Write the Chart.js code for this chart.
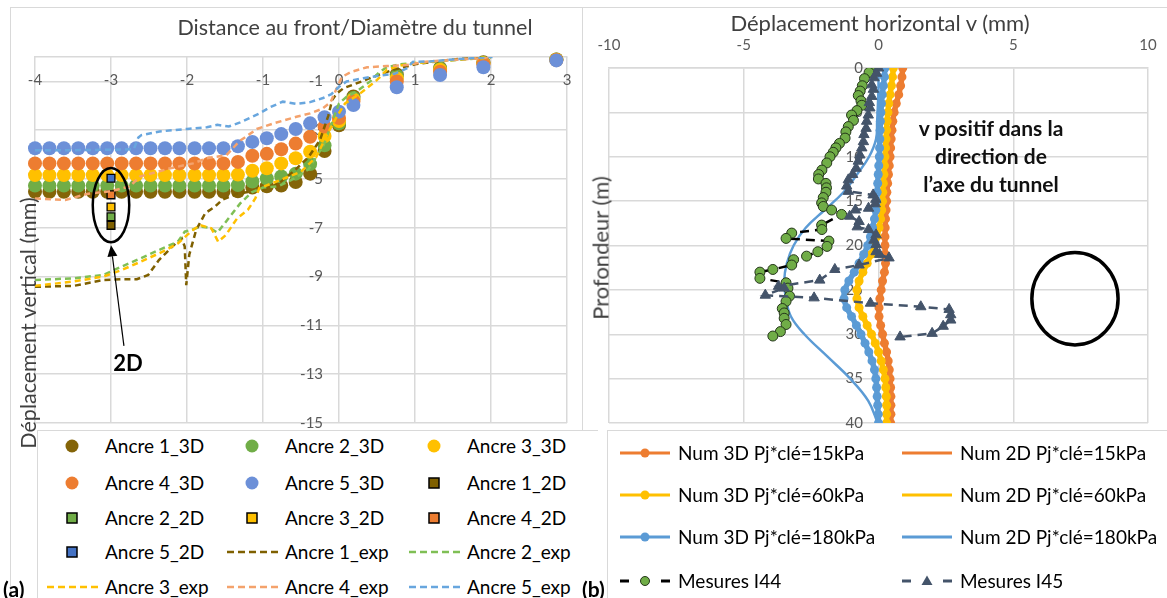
<!DOCTYPE html>
<html lang="fr"><head><meta charset="utf-8">
<title>Déplacements</title>
<script src="https://cdn.jsdelivr.net/npm/chart.js@4.4.1/dist/chart.umd.min.js"></script>
<style>
html,body{margin:0;padding:0;background:#fff;}
#wrap{position:relative;width:1167px;height:598px;overflow:hidden;background:#fff;font-family:Lato,'Liberation Sans',sans-serif;color:#000;}
.t{position:absolute;white-space:nowrap;}
.frame{position:absolute;border:1px solid #D9D9D9;box-sizing:border-box;}
.legbox{position:absolute;border-top:1.5px solid #D9D9D9;border-left:1.5px solid #D9D9D9;background:#fff;}
.leg{position:absolute;font-size:19px;line-height:20px;color:#000;white-space:nowrap;}
svg.m{position:absolute;overflow:visible;}
canvas{position:absolute;}
</style></head>
<body><div id="wrap">
<div class="frame" style="left:10px;top:7px;width:573px;height:600px;"></div>
<div class="frame" style="left:582px;top:7px;width:600px;height:600px;"></div>
<canvas id="c1" width="580" height="430" style="left:0;top:0;width:580px;height:430px"></canvas>
<canvas id="c2" width="584" height="430" style="left:583px;top:0;width:584px;height:430px"></canvas>
<div class="t" style="left:355px;top:27px;transform:translate(-50%,-50%);font-size:21.5px;color:#404040">Distance au front/Diamètre du tunnel</div>
<div class="t" style="left:880px;top:22px;transform:translate(-50%,-50%);font-size:22px;color:#404040">Déplacement horizontal v (mm)</div>
<div class="t" style="left:28px;top:323px;transform:translate(-50%,-50%) rotate(-90deg);font-size:21.5px;color:#404040">Déplacement vertical (mm)</div>
<div class="t" style="left:600px;top:248px;transform:translate(-50%,-50%) rotate(-90deg);font-size:22px;color:#404040">Profondeur (m)</div>
<div class="t" style="left:128px;top:362px;transform:translate(-50%,-50%);font-size:22px;font-weight:bold">2D</div>
<div class="t" style="left:991px;top:156px;transform:translate(-50%,-50%);font-size:21px;font-weight:bold;line-height:28px;text-align:center;color:#111">v positif dans la<br>direction de<br>l’axe du tunnel</div>
<div class="legbox" style="left:37px;top:430px;width:560px;height:180px"></div>
<div class="legbox" style="left:607px;top:430px;width:580px;height:180px"></div>
<div id="legL"></div>
<div id="legR"></div>
<div class="t" style="left:3px;top:576px;font-size:21px;font-weight:bold">(a)</div>
<div class="t" style="left:582px;top:576px;font-size:21px;font-weight:bold">(b)</div>
</div>
<script>
// ================= DATA : panel (a) =================
const xTicksLeft = [-4, -3, -2, -1, 0, 1, 2, 3];
const yTicksLeft = [-15, -13, -11, -9, -7, -5, -3, -1];
const anchorLabels = ['Ancre 1', 'Ancre 2', 'Ancre 3', 'Ancre 4', 'Ancre 5'];

// 3D numerical (distance au front / D)
const x3D = [-4.00,-3.81,-3.62,-3.43,-3.24,-3.05,-2.86,-2.67,-2.48,-2.29,-2.10,-1.90,-1.71,-1.52,-1.33,-1.14,-0.95,-0.76,-0.57,-0.38,-0.19,0.00,0.19,0.76,1.33,1.90,2.86];
const ancre1_3D = [-5.52,-5.52,-5.52,-5.52,-5.52,-5.52,-5.52,-5.52,-5.52,-5.52,-5.52,-5.52,-5.52,-5.52,-5.50,-5.35,-5.30,-5.27,-5.12,-4.78,-3.85,-2.80,-1.62,-0.72,-0.45,-0.22,-0.10];
const ancre2_3D = [-5.27,-5.27,-5.27,-5.27,-5.27,-5.27,-5.27,-5.27,-5.27,-5.27,-5.27,-5.27,-5.27,-5.27,-5.25,-5.10,-4.98,-4.90,-4.78,-4.39,-3.62,-2.72,-1.68,-0.78,-0.48,-0.24,-0.10];
const ancre3_3D = [-4.84,-4.84,-4.84,-4.84,-4.84,-4.84,-4.84,-4.84,-4.84,-4.84,-4.84,-4.84,-4.84,-4.84,-4.82,-4.66,-4.56,-4.36,-4.15,-3.88,-3.24,-2.62,-1.74,-0.88,-0.52,-0.26,-0.11];
const ancre4_3D = [-4.36,-4.36,-4.36,-4.36,-4.36,-4.36,-4.36,-4.36,-4.36,-4.36,-4.36,-4.36,-4.36,-4.36,-4.30,-4.05,-3.97,-3.78,-3.55,-3.27,-2.85,-2.50,-1.82,-1.00,-0.60,-0.30,-0.12];
const ancre5_3D = [-3.74,-3.74,-3.74,-3.74,-3.74,-3.74,-3.74,-3.74,-3.74,-3.74,-3.74,-3.74,-3.74,-3.74,-3.66,-3.48,-3.33,-3.16,-2.95,-2.72,-2.47,-2.24,-1.97,-1.24,-0.74,-0.42,-0.14];

// 2D numerical
const x2D = [-3];
const ancre1_2D = [-6.90];
const ancre2_2D = [-6.55];
const ancre3_2D = [-6.15];
const ancre4_2D = [-5.65];
const ancre5_2D = [-4.97];

// measurements
const exp1X = [-4.00,-3.49,-3.10,-2.86,-2.66,-2.51,-2.37,-2.17,-2.07,-2.03,-2.01,-1.97,-1.88,-1.76,-1.63,-1.54,-1.34,-1.00,-0.80,-0.60,-0.40,-0.25,-0.14,-0.09,-0.03,0.06,0.30,0.45,0.71,1.00,1.50,2.00];
const exp1Y = [-9.42,-9.38,-9.14,-9.11,-9.11,-8.93,-8.32,-7.70,-7.43,-7.77,-9.35,-8.10,-7.09,-6.40,-6.13,-5.86,-5.60,-5.45,-5.20,-4.70,-4.10,-3.40,-2.40,-1.76,-1.50,-1.28,-1.00,-0.81,-0.53,-0.30,-0.10,0.00];
const exp2X = [-4.00,-3.49,-3.10,-2.86,-2.61,-2.32,-2.12,-2.03,-1.95,-1.82,-1.70,-1.60,-1.45,-1.30,-1.15,-1.00,-0.80,-0.60,-0.40,-0.20,0.00,0.10,0.23,0.41,0.54,0.63,0.80,1.20,2.00];
const exp2Y = [-9.14,-9.07,-8.93,-8.59,-8.25,-7.84,-7.57,-7.16,-7.10,-6.95,-7.00,-7.20,-6.60,-6.00,-5.55,-5.35,-5.30,-5.00,-4.60,-3.60,-1.90,-1.63,-1.42,-1.00,-0.60,-0.42,-0.30,-0.20,-0.02];
const exp3X = [-4.00,-3.49,-3.10,-2.86,-2.61,-2.32,-2.12,-1.95,-1.83,-1.68,-1.59,-1.49,-1.34,-1.20,-1.10,-1.05,-0.90,-0.70,-0.50,-0.30,-0.16,-0.03,0.08,0.28,0.50,0.63,0.80,1.00,1.50,2.00];
const exp3Y = [-9.38,-9.20,-9.00,-8.73,-8.39,-7.98,-7.64,-7.16,-6.89,-7.02,-7.57,-7.30,-6.61,-6.27,-5.79,-5.38,-5.20,-4.95,-4.70,-4.10,-3.20,-2.45,-1.90,-1.49,-0.94,-0.53,-0.35,-0.25,-0.12,-0.02];
const exp4X = [-4.00,-3.60,-3.30,-3.00,-2.75,-2.62,-2.22,-1.92,-1.74,-1.48,-1.31,-1.08,-0.86,-0.56,-0.38,-0.22,-0.11,-0.04,0.04,0.17,0.37,0.63,0.89,1.14,1.87,2.00];
const exp4Y = [-5.80,-5.86,-5.60,-5.50,-5.30,-4.90,-4.56,-4.36,-4.15,-4.02,-3.45,-2.95,-2.72,-2.45,-2.31,-2.12,-1.85,-1.35,-0.81,-0.60,-0.42,-0.37,-0.33,-0.19,-0.05,0.00];
const exp5X = [-4.00,-3.50,-3.00,-2.70,-2.64,-2.60,-2.36,-2.00,-1.74,-1.60,-1.45,-1.30,-1.04,-0.90,-0.74,-0.56,-0.38,-0.21,-0.10,0.00,0.10,0.32,0.54,0.74,0.90,0.97,1.20,1.50,2.02];
const exp5Y = [-3.82,-3.82,-3.80,-3.78,-3.30,-3.20,-3.05,-2.95,-2.88,-2.78,-2.85,-2.68,-2.30,-2.05,-1.83,-1.92,-1.85,-1.68,-1.52,-1.22,-1.00,-0.87,-0.76,-0.68,-0.45,-0.20,-0.18,-0.10,0.00];

// ================= DATA : panel (b) =================
const xTicksRight = [-10, -5, 0, 5, 10];
const depth3D = [0,1,2,3,4,5,6,7,8,9,10,11,12,13,14,15,16,17,18,19,20,21,22,23,24,25,26,27,28,29,30,31,32,33,34,35,36,37,38,39,40];
const num3D_15 = [0.90,0.87,0.82,0.75,0.66,0.58,0.53,0.50,0.47,0.45,0.43,0.40,0.37,0.34,0.31,0.30,0.28,0.26,0.25,0.24,0.24,0.25,0.26,0.22,0.15,0.10,0.05,0.02,0.02,0.08,0.15,0.22,0.30,0.36,0.40,0.43,0.45,0.46,0.46,0.46,0.45];
const num3D_60 = [0.55,0.52,0.48,0.43,0.38,0.35,0.32,0.30,0.28,0.26,0.24,0.22,0.20,0.18,0.16,0.15,0.12,0.08,0.02,-0.06,-0.15,-0.28,-0.42,-0.58,-0.72,-0.80,-0.80,-0.72,-0.58,-0.42,-0.26,-0.12,0.00,0.10,0.18,0.24,0.27,0.29,0.30,0.30,0.30];
const num3D_180 = [0.24,0.22,0.18,0.14,0.11,0.09,0.07,0.06,0.05,0.04,0.03,0.01,-0.01,-0.03,-0.05,-0.07,-0.10,-0.15,-0.22,-0.30,-0.40,-0.55,-0.72,-0.90,-1.10,-1.25,-1.28,-1.18,-1.00,-0.82,-0.65,-0.50,-0.36,-0.24,-0.15,-0.10,-0.07,-0.05,-0.03,-0.01,0.00];
const depth2D = [0,2,4,6,8,10,12,14,16,18,20,22,24,26,28,30,32.5,35,37.5,40];
const num2D_15 = [0.95,0.80,0.68,0.56,0.50,0.45,0.40,0.35,0.31,0.28,0.27,0.30,0.20,0.08,0.05,0.18,0.36,0.48,0.50,0.50];
const num2D_60 = [0.60,0.50,0.40,0.34,0.30,0.26,0.22,0.18,0.14,0.06,-0.12,-0.40,-0.70,-0.82,-0.60,-0.25,0.05,0.27,0.32,0.33];
const num2D_180 = [0.00,0.00,-0.02,-0.05,-0.09,-0.35,-0.80,-1.30,-2.00,-2.70,-3.15,-3.40,-3.50,-3.43,-3.25,-2.75,-1.90,-1.05,-0.38,-0.03];
const i44Depth = [0.0,0.5,1.2,2.0,2.6,3.1,3.7,4.2,4.8,5.3,5.9,6.6,7.2,7.9,8.5,9.0,9.5,10.0,10.7,11.5,12.0,12.5,13.0,13.5,14.0,14.6,15.2,15.6,16.0,16.5,17.7,18.2,18.6,19.2,19.5,20.1,20.7,21.2,21.6,22.2,22.7,23.0,23.7,24.2,24.8,25.7,26.3,27.1,27.6,28.2,28.9,29.7,30.2];
const i44V = [-0.20,-0.35,-0.52,-0.60,-0.68,-0.75,-0.65,-0.62,-0.80,-1.00,-0.93,-1.12,-1.21,-1.24,-1.45,-1.58,-1.68,-1.80,-1.92,-2.10,-2.22,-2.23,-1.95,-1.93,-1.95,-2.05,-2.11,-2.05,-1.74,-1.37,-2.11,-2.10,-3.22,-3.43,-1.84,-1.91,-2.25,-2.67,-3.15,-3.22,-3.92,-4.40,-4.40,-3.43,-3.36,-3.30,-3.43,-3.57,-3.50,-3.50,-3.43,-3.64,-3.92];
const i45Depth = [0.0,0.6,1.1,1.9,2.4,3.2,3.9,4.5,5.3,6.0,6.8,7.5,8.3,9.0,9.8,10.5,11.3,12.0,12.6,13.3,13.9,14.3,14.8,15.3,15.8,16.0,16.7,17.3,17.9,18.2,18.8,19.4,19.9,20.7,21.0,21.4,22.2,22.7,23.9,24.6,24.8,25.6,25.9,26.5,26.9,27.2,27.8,28.4,29.1,29.9,30.3];
const i45V = [0.00,-0.07,-0.17,-0.25,-0.19,-0.25,-0.34,-0.32,-0.38,-0.44,-0.46,-0.54,-0.56,-0.62,-0.69,-0.75,-0.83,-0.96,-1.12,-1.18,-1.12,-0.20,-0.10,-0.12,-0.37,-0.86,-1.07,-0.72,-0.79,-0.37,-0.09,-0.17,-0.09,-0.09,0.04,0.39,-0.72,-1.62,-2.18,-3.71,-3.50,-4.20,-2.39,-0.30,1.57,2.62,2.68,2.68,2.40,1.99,0.80];

// ================= STYLES =================
const GRID = '#D9D9D9', TICK = '#595959';
const dotCol = ['#846408', '#70AD47', '#FFC000', '#ED7D31', '#6C90D8'];
const sqCol  = ['#7F6000', '#70AD47', '#FFC000', '#ED7D31', '#4472C4'];
const expCol = ['#7F6000', '#7FBF55', '#FFC000', '#F4A26C', '#68A6DE'];
const cOr = '#ED7D31', cYe = '#FFC000', cBl = '#5B9BD5', cGr = '#70AD47', cSl = '#44546A';

Chart.defaults.font.family = "Lato, 'Liberation Sans', sans-serif";
Chart.defaults.color = TICK;

const pts = (xs, ys) => xs.map((v, i) => ({x: v, y: ys[i]}));
const zeroPad = s => { s.paddingLeft = 0; s.paddingRight = 0; s.paddingTop = 0; s.paddingBottom = 0; };

const annot = {
  id: 'annot',
  afterDatasetsDraw(chart, args, opts) {
    const {ctx, scales: {x, y}} = chart;
    ctx.save();
    ctx.strokeStyle = '#000'; ctx.fillStyle = '#000';
    (opts.ellipses || []).forEach(e => {
      const cx = x.getPixelForValue(e.cx), cy = y.getPixelForValue(e.cy);
      const rx = Math.abs(x.getPixelForValue(e.cx + e.rx) - cx);
      const ry = Math.abs(y.getPixelForValue(e.cy + e.ry) - cy);
      ctx.lineWidth = e.lw;
      ctx.beginPath(); ctx.ellipse(cx, cy, rx, ry, 0, 0, Math.PI * 2); ctx.stroke();
    });
    (opts.arrows || []).forEach(a => {
      const x1 = x.getPixelForValue(a.from[0]), y1 = y.getPixelForValue(a.from[1]);
      const x2 = x.getPixelForValue(a.to[0]), y2 = y.getPixelForValue(a.to[1]);
      const ang = Math.atan2(y2 - y1, x2 - x1), L = 11, W = 5;
      ctx.lineWidth = 1.2;
      ctx.beginPath(); ctx.moveTo(x1, y1);
      ctx.lineTo(x2 - L * Math.cos(ang), y2 - L * Math.sin(ang)); ctx.stroke();
      ctx.beginPath(); ctx.moveTo(x2, y2);
      ctx.lineTo(x2 - L * Math.cos(ang) + W * Math.sin(ang), y2 - L * Math.sin(ang) - W * Math.cos(ang));
      ctx.lineTo(x2 - L * Math.cos(ang) - W * Math.sin(ang), y2 - L * Math.sin(ang) + W * Math.cos(ang));
      ctx.closePath(); ctx.fill();
    });
    ctx.restore();
  }
};

// ================= CHART (a) =================
const s3D = [ancre1_3D, ancre2_3D, ancre3_3D, ancre4_3D, ancre5_3D];
const s2D = [ancre1_2D, ancre2_2D, ancre3_2D, ancre4_2D, ancre5_2D];
const sExp = [[exp1X, exp1Y], [exp2X, exp2Y], [exp3X, exp3Y], [exp4X, exp4Y], [exp5X, exp5Y]];
const dsA = [];
s3D.forEach((ys, k) => dsA.push({label: anchorLabels[k] + '_3D', data: pts(x3D, ys), showLine: false,
  pointRadius: 7, pointBorderWidth: 0, pointBackgroundColor: dotCol[k], backgroundColor: dotCol[k], borderColor: dotCol[k],
  order: 20 - k, clip: false, _kind: 'dot'}));
s2D.forEach((ys, k) => dsA.push({label: anchorLabels[k] + '_2D', data: pts(x2D, ys), showLine: false,
  pointStyle: 'rect', pointRadius: 5.5, pointBorderWidth: 1.3, pointBorderColor: '#000', pointBackgroundColor: sqCol[k],
  backgroundColor: sqCol[k], borderColor: '#000', order: 12 - k, clip: false, _kind: 'square'}));
sExp.forEach((xy, k) => dsA.push({label: anchorLabels[k] + '_exp', data: pts(xy[0], xy[1]), showLine: true,
  pointRadius: 0, borderColor: expCol[k], borderWidth: 2.5, borderDash: [6, 4], tension: 0, order: 6 - k, _kind: 'dash'}));

const chartA = new Chart(document.getElementById('c1'), {
  type: 'scatter',
  data: {datasets: dsA},
  options: {
    responsive: false, animation: false,
    layout: {padding: {left: 35, right: 13, top: 57, bottom: 7}},
    plugins: {legend: {display: false}, tooltip: {enabled: false},
      annot: {ellipses: [{cx: -3.0, cy: -6.07, rx: 0.24, ry: 1.52, lw: 2.5}],
              arrows: [{from: [-2.83, -11.84], to: [-3.0, -7.72]}]}},
    scales: {
      x: {type: 'linear', min: -4, max: 3, position: {y: 0},
        afterBuildTicks: s => { s.ticks = xTicksLeft.map(v => ({value: v})); },
        ticks: {color: TICK, font: {size: 15}, padding: 14},
        grid: {color: GRID, lineWidth: 1.5, drawTicks: false},
        border: {display: true, color: GRID, width: 1.5}, afterFit: zeroPad},
      y: {type: 'linear', min: -15, max: 0, position: {x: -0.21},
        afterBuildTicks: s => { s.ticks = yTicksLeft.map(v => ({value: v})); },
        ticks: {color: TICK, font: {size: 15}, padding: 0},
        grid: {color: GRID, lineWidth: 1.5, drawTicks: false},
        border: {display: false}, afterFit: zeroPad}
    }
  },
  plugins: [annot]
});

// ================= CHART (b) =================
const dsB = [
  {label: 'Num 3D Pj*clé=15kPa', data: pts(num3D_15, depth3D), showLine: true, borderColor: cOr, backgroundColor: cOr,
   borderWidth: 5.5, pointRadius: 4.5, pointBorderWidth: 0, pointBackgroundColor: cOr, tension: 0.3, order: 8, _kind: 'lineDot'},
  {label: 'Num 2D Pj*clé=15kPa', data: pts(num2D_15, depth2D), showLine: true, borderColor: cOr, backgroundColor: cOr,
   borderWidth: 2.5, pointRadius: 0, tension: 0.4, order: 7, _kind: 'line'},
  {label: 'Num 3D Pj*clé=60kPa', data: pts(num3D_60, depth3D), showLine: true, borderColor: cYe, backgroundColor: cYe,
   borderWidth: 5.5, pointRadius: 4.5, pointBorderWidth: 0, pointBackgroundColor: cYe, tension: 0.3, order: 6, _kind: 'lineDot'},
  {label: 'Num 2D Pj*clé=60kPa', data: pts(num2D_60, depth2D), showLine: true, borderColor: cYe, backgroundColor: cYe,
   borderWidth: 2.5, pointRadius: 0, tension: 0.4, order: 5, _kind: 'line'},
  {label: 'Num 3D Pj*clé=180kPa', data: pts(num3D_180, depth3D), showLine: true, borderColor: cBl, backgroundColor: cBl,
   borderWidth: 5.5, pointRadius: 4.5, pointBorderWidth: 0, pointBackgroundColor: cBl, tension: 0.3, order: 4, _kind: 'lineDot'},
  {label: 'Num 2D Pj*clé=180kPa', data: pts(num2D_180, depth2D), showLine: true, borderColor: cBl, backgroundColor: cBl,
   borderWidth: 2.5, pointRadius: 0, tension: 0.4, order: 3, _kind: 'line'},
  {label: 'Mesures I44', data: pts(i44V, i44Depth), showLine: true, borderColor: '#000', borderWidth: 2.5, borderDash: [9, 6],
   pointRadius: 5, pointBackgroundColor: cGr, pointBorderColor: '#24361a', pointBorderWidth: 1, tension: 0, order: 2, _kind: 'measDot'},
  {label: 'Mesures I45', data: pts(i45V, i45Depth), showLine: true, borderColor: cSl, borderWidth: 2.5, borderDash: [9, 6],
   pointStyle: 'triangle', pointRadius: 6, pointBackgroundColor: cSl, pointBorderColor: cSl, pointBorderWidth: 1, tension: 0, order: 1, _kind: 'measTri'}
];

const chartB = new Chart(document.getElementById('c2'), {
  type: 'scatter',
  data: {datasets: dsB},
  options: {
    responsive: false, animation: false,
    layout: {padding: {left: 26, right: 19, top: 28, bottom: 7}},
    plugins: {legend: {display: false}, tooltip: {enabled: false},
      annot: {ellipses: [{cx: 7.29, cy: 26.0, rx: 1.6, ry: 5.2, lw: 3.5}]}},
    scales: {
      x: {type: 'linear', min: -10, max: 10, position: 'top',
        afterBuildTicks: s => { s.ticks = xTicksRight.map(v => ({value: v})); },
        ticks: {color: TICK, font: {size: 15}, padding: 14},
        grid: {color: GRID, lineWidth: 1.5, drawTicks: false},
        border: {display: true, color: GRID, width: 1.5},
        afterFit: s => { zeroPad(s); s.height = 40; }},
      y: {type: 'linear', min: 0, max: 40, reverse: true, position: {x: -0.58},
        ticks: {stepSize: 5, color: TICK, font: {size: 15}, padding: 0},
        grid: {color: GRID, lineWidth: 1.5, drawTicks: false},
        border: {display: false}, afterFit: zeroPad}
    }
  },
  plugins: [annot]
});

// ================= LEGENDS (HTML, built from datasets) =================
function marker(ds) {
  const k = ds._kind;
  const col = ds.pointBackgroundColor || ds.borderColor;
  if (k === 'dot') return `<circle cx="27" cy="10" r="6.5" fill="${col}"/>`;
  if (k === 'square') return `<rect x="22" y="5" width="10" height="10" fill="${col}" stroke="#000" stroke-width="1.5"/>`;
  if (k === 'dash') return `<line x1="2" y1="10" x2="55" y2="10" stroke="${ds.borderColor}" stroke-width="2.5" stroke-dasharray="7,4"/>`;
  if (k === 'lineDot') return `<line x1="2" y1="10" x2="52" y2="10" stroke="${ds.borderColor}" stroke-width="3"/><circle cx="27" cy="10" r="4.5" fill="${col}"/>`;
  if (k === 'line') return `<line x1="2" y1="10" x2="52" y2="10" stroke="${ds.borderColor}" stroke-width="3"/>`;
  if (k === 'measDot') return `<line x1="2" y1="10" x2="11" y2="10" stroke="#000" stroke-width="3"/><line x1="43" y1="10" x2="52" y2="10" stroke="#000" stroke-width="3"/><circle cx="27" cy="10" r="4.5" fill="${cGr}" stroke="#24361a" stroke-width="1"/>`;
  if (k === 'measTri') return `<line x1="2" y1="10" x2="11" y2="10" stroke="${cSl}" stroke-width="3"/><line x1="43" y1="10" x2="52" y2="10" stroke="${cSl}" stroke-width="3"/><polygon points="27,4.5 32.5,14 21.5,14" fill="${cSl}"/>`;
  return '';
}
function buildLegend(el, datasets, colText, rows, mOff) {
  let html = '';
  datasets.forEach((ds, i) => {
    const c = i % colText.length, r = Math.floor(i / colText.length);
    const tx = colText[c], ty = rows[r];
    html += `<svg class="m" width="60" height="20" style="left:${tx - mOff}px;top:${ty - 10}px">${marker(ds)}</svg>`;
    html += `<div class="leg" style="left:${tx}px;top:${ty - 10}px">${ds.label}</div>`;
  });
  el.innerHTML = html;
}
buildLegend(document.getElementById('legL'), dsA, [105, 285, 467], [446, 483, 518, 552, 587], 60);
buildLegend(document.getElementById('legR'), dsB, [678, 960], [453, 495, 537, 581], 60);
</script>
</body></html>
